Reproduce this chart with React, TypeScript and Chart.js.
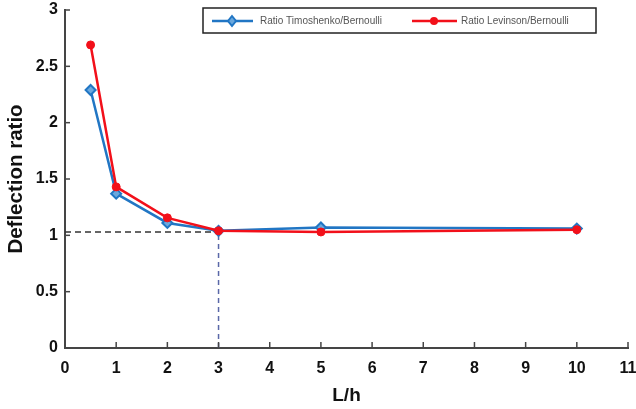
import React, { useEffect, useRef } from "react";
import { Chart, registerables } from "chart.js";

Chart.register(...registerables);

const xValues = [0.5, 1, 2, 3, 5, 10];
const timoshenko = [2.29, 1.37, 1.11, 1.04, 1.07, 1.06];
const levinson = [2.69, 1.43, 1.155, 1.04, 1.03, 1.05];
const refX = 3;
const refY = 1.03;
const seriesLabels = ["Ratio Timoshenko/Bernoulli", "Ratio Levinson/Bernoulli"];

const BLUE = "#2176c4";
const RED = "#f2101a";
const AXIS = "#454545";
const FONT = "'Liberation Sans', Arial, sans-serif";

const tickPlugin = {
  id: "inwardTicks",
  afterDraw(chart: any) {
    const { ctx, chartArea, scales } = chart;
    ctx.save();
    ctx.strokeStyle = AXIS;
    ctx.lineWidth = 1.5;
    scales.x.ticks.forEach((t: any) => {
      const px = scales.x.getPixelForValue(t.value);
      ctx.beginPath();
      ctx.moveTo(px, chartArea.bottom);
      ctx.lineTo(px, chartArea.bottom - 6);
      ctx.stroke();
    });
    scales.y.ticks.forEach((t: any) => {
      const py = scales.y.getPixelForValue(t.value);
      ctx.beginPath();
      ctx.moveTo(chartArea.left, py);
      ctx.lineTo(chartArea.left + 5, py);
      ctx.stroke();
    });
    ctx.restore();
  },
};

const legendPlugin = {
  id: "boxLegend",
  afterDraw(chart: any) {
    const { ctx } = chart;
    ctx.save();
    ctx.strokeStyle = "#222";
    ctx.lineWidth = 1.5;
    ctx.fillStyle = "#fff";
    ctx.fillRect(203, 8, 393, 25);
    ctx.strokeRect(203, 8, 393, 25);
    const cy = 21;
    ctx.strokeStyle = BLUE;
    ctx.lineWidth = 2.5;
    ctx.beginPath();
    ctx.moveTo(212, cy);
    ctx.lineTo(253, cy);
    ctx.stroke();
    ctx.fillStyle = "#6aa8de";
    ctx.lineWidth = 2;
    ctx.beginPath();
    ctx.moveTo(232, cy - 5);
    ctx.lineTo(236, cy);
    ctx.lineTo(232, cy + 5);
    ctx.lineTo(228, cy);
    ctx.closePath();
    ctx.fill();
    ctx.stroke();
    ctx.strokeStyle = RED;
    ctx.lineWidth = 2.5;
    ctx.beginPath();
    ctx.moveTo(412, cy);
    ctx.lineTo(457, cy);
    ctx.stroke();
    ctx.fillStyle = RED;
    ctx.beginPath();
    ctx.arc(434, cy, 4, 0, Math.PI * 2);
    ctx.fill();
    ctx.fillStyle = "#555";
    ctx.font = `10px ${FONT}`;
    ctx.textBaseline = "middle";
    ctx.textAlign = "left";
    ctx.fillText(seriesLabels[0], 260, cy);
    ctx.fillText(seriesLabels[1], 461, cy);
    ctx.restore();
  },
};

export default function App() {
  const ref = useRef<HTMLCanvasElement>(null);
  useEffect(() => {
    if (!ref.current) return;
    const chart = new Chart(ref.current, {
      type: "line",
      data: {
        datasets: [
          {
            label: seriesLabels[1],
            data: xValues.map((x, i) => ({ x, y: levinson[i] })),
            borderColor: RED,
            backgroundColor: RED,
            borderWidth: 2.5,
            pointStyle: "circle",
            pointRadius: 4,
            pointBorderWidth: 1,
            pointBorderColor: RED,
            pointBackgroundColor: RED,
          },
          {
            label: seriesLabels[0],
            data: xValues.map((x, i) => ({ x, y: timoshenko[i] })),
            borderColor: BLUE,
            backgroundColor: "#6aa8de",
            borderWidth: 2.5,
            pointStyle: "rectRot",
            pointRadius: 5,
            pointBorderWidth: 2,
            pointBorderColor: BLUE,
            pointBackgroundColor: "#6aa8de",
          },
          {
            label: "h-ref",
            data: [
              { x: 0, y: refY },
              { x: refX, y: refY },
            ],
            borderColor: "#333",
            borderWidth: 1.5,
            borderDash: [6, 4],
            pointRadius: 0,
          },
          {
            label: "v-ref",
            data: [
              { x: refX, y: 0 },
              { x: refX, y: refY },
            ],
            borderColor: "#5a68a8",
            borderWidth: 1.5,
            borderDash: [5, 4],
            pointRadius: 0,
          },
        ],
      },
      options: {
        responsive: false,
        animation: false,
        layout: { padding: { top: 10, right: 8, left: 0, bottom: 0 } },
        plugins: { legend: { display: false }, tooltip: { enabled: false } },
        scales: {
          x: {
            type: "linear",
            min: 0,
            max: 11,
            ticks: {
              stepSize: 1,
              color: "#111",
              padding: 11,
              font: { family: FONT, size: 16, weight: "bold" },
            },
            grid: { display: false, drawTicks: false },
            border: { display: true, color: AXIS, width: 2 },
            title: {
              display: true,
              text: "L/h",
              color: "#111",
              font: { family: FONT, size: 19, weight: "bold" },
              padding: { top: 0, bottom: 2 },
            },
            afterFit: (s: any) => {
              s.height = 61;
              s.paddingRight = 0;
              s.paddingLeft = 0;
            },
          },
          y: {
            min: 0,
            max: 3,
            ticks: {
              stepSize: 0.5,
              color: "#111",
              padding: 7,
              font: { family: FONT, size: 16, weight: "bold" },
              callback: (v: any) => String(Number(v)),
            },
            grid: { display: false, drawTicks: false },
            border: { display: true, color: AXIS, width: 2 },
            title: {
              display: true,
              text: "Deflection ratio",
              color: "#111",
              font: { family: FONT, size: 20.5, weight: "bold" },
              padding: { top: 4, bottom: 0 },
            },
            afterFit: (s: any) => {
              s.width = 65;
              s.paddingTop = 0;
              s.paddingBottom = 0;
            },
          },
        },
      },
      plugins: [tickPlugin, legendPlugin],
    });
    return () => chart.destroy();
  }, []);
  return (
    <div style={{ position: "absolute", left: 0, top: 0, width: 636, height: 409, background: "#fff" }}>
      <canvas ref={ref} width={636} height={409} />
    </div>
  );
}
